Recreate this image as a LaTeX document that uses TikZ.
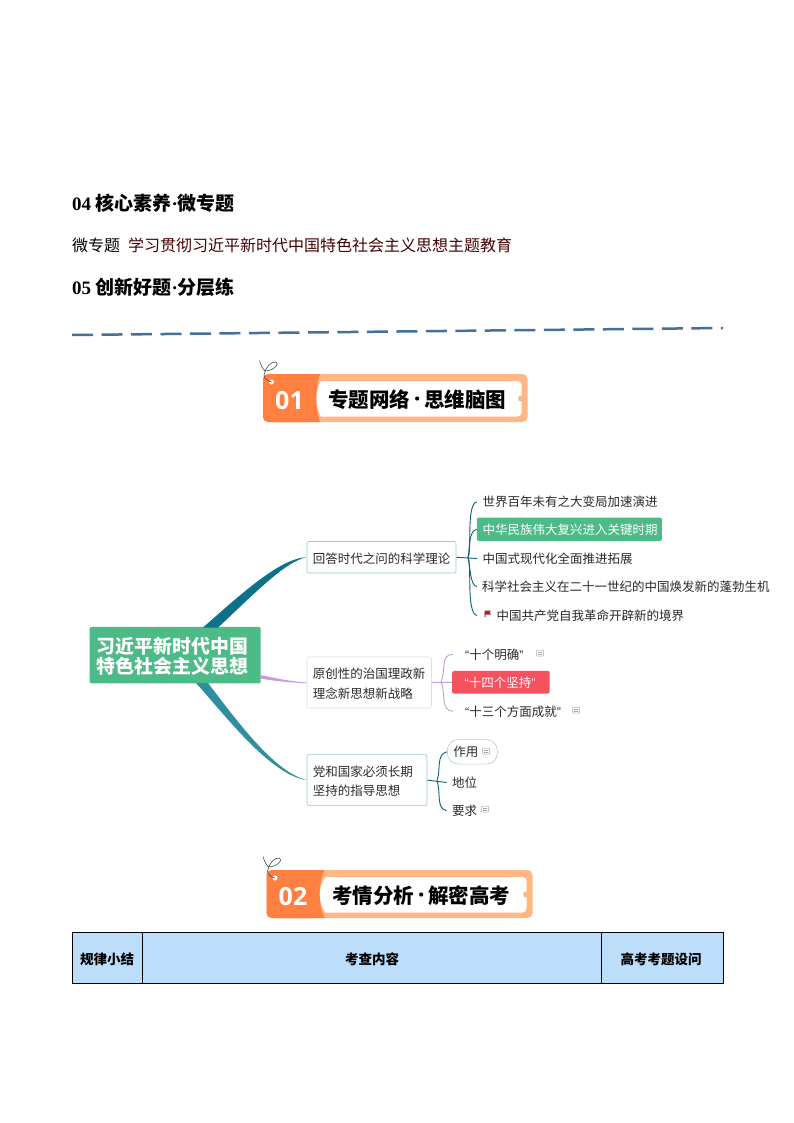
\documentclass[tikz,border=0pt]{standalone}
\usepackage{fontspec}
\setmainfont{Noto Sans CJK SC}
\newfontfamily\latinserif{Liberation Serif}
\newfontfamily\bannerfont{Open Sans}
\newfontfamily\quotefont{Liberation Sans}
\usetikzlibrary{calc}
\definecolor{tealA}{HTML}{0D7289}
\definecolor{tealB}{HTML}{0B5F78}
\definecolor{tealC}{HTML}{2F8F9F}
\definecolor{lilac}{HTML}{C99AD8}
\definecolor{rootgreen}{HTML}{4DBB87}
\definecolor{hotred}{HTML}{F5515F}
\definecolor{bannerA}{HTML}{FF8040}
\definecolor{bannerB}{HTML}{FFB885}
\definecolor{headblue}{HTML}{BDDEFB}
\definecolor{dashblue}{HTML}{44709F}
\definecolor{txt}{HTML}{2A2A2A}
\tikzset{
  x=1pt,y=-1pt,
  heading/.style={anchor=west,inner sep=0pt,font=\fontsize{19}{22}\selectfont\bfseries,text=black},
  bodytext/.style={anchor=west,inner sep=0pt,font=\fontsize{16}{19}\selectfont},
  mainbox/.style={draw,rounded corners=2pt,line width=0.6pt,fill=white,anchor=north west,inner ysep=0pt,inner xsep=5.8pt,align=left,text=txt,font=\fontsize{12.5}{19.5}\selectfont},
  leaf/.style={anchor=west,inner ysep=2pt,inner xsep=5.5pt,text=txt,font=\fontsize{12.5}{15}\selectfont},
  thinline/.style={line width=0.9pt},
  noteicon/.style={draw=gray!70,line width=0.5pt,fill=white},
  headcell/.style={anchor=center,inner sep=0pt,font=\fontsize{13.5}{16}\selectfont\bfseries,text=black},
}
\newcommand{\dropline}[1]{\raisebox{-1pt}[\height][\depth]{#1}}
\newcommand{\notemark}[2]{%
  \draw[noteicon,rounded corners=0.8pt] (#1-3.5,#2-3) rectangle (#1+3.5,#2+3);
  \draw[gray!70,line width=0.5pt] (#1-2,#2-0.8) -- (#1+2,#2-0.8) (#1-2,#2+1) -- (#1+2,#2+1);
}
\newcommand{\bdot}{\makebox[14pt][c]{\fontsize{24}{24}\selectfont\bannerfont\bfseries ·}}
% x0 left, y0 top, x1 right, split x, inner-left x, number, title, title x, name
\newcommand{\bannerbox}[9]{%
  \fill[bannerB,rounded corners=5pt] (#1,#2) rectangle (#3,#2+48);
  \fill[bannerA,rounded corners=5pt] (#1,#2) rectangle (#4-8,#2+48);
  \fill[bannerA] (#1+10,#2) -- (#4,#2) .. controls (#5-1,#2+14) and (#5-1,#2+34) .. (#4,#2+48) -- (#1+10,#2+48) -- cycle;
  \fill[white,rounded corners=4pt] (#5+5,#2+7) rectangle (#3-6,#2+42.5);
  \fill[white] (#4+1,#2+7) .. controls (#5-1,#2+16) and (#5-1,#2+33) .. (#4+1,#2+42.5) -- (#5+10,#2+42.5) -- (#5+10,#2+7) -- cycle;
  \fill[bannerB] (#3-6.5,#2+24.5) circle (3);
  \fill[white] (#1+8.5,#2+8) circle (2.5);
  \draw[black!70,line width=0.6pt] (#1-3.5,#2-13.5) .. controls (#1-2,#2-8) and (#1,#2-5) .. (#1+2,#2-3) .. controls (#1+10,#2-3) and (#1+17,#2-10) .. (#1+13,#2-12) .. controls (#1+8,#2-13) and (#1+2,#2-6) .. (#1+1,#2+1) .. controls (#1+1,#2+5) and (#1+5,#2+7) .. (#1+8.5,#2+8);
  \node[anchor=center,inner sep=0pt,text=white,font=\bannerfont\fontsize{25}{28}\selectfont\bfseries] at (#1+26.5,#2+26.5) {#6};
  \node[anchor=west,inner sep=0pt,text=black,font=\fontsize{20.5}{24}\selectfont\bfseries] (#9) at (#8,#2+25.5) {#7};
}
\begin{document}
\begin{tikzpicture}
\useasboundingbox (0,0) rectangle (794,1123);
\fill[white] (0,0) rectangle (794,1123);

% headings
\node[heading] (h4) at (72,203) {{\latinserif 04} 核心素养{\latinserif ·}微专题};
\node[bodytext,text=black] (b1) at (72,245) {微专题};
\node[bodytext,text=black!60!red!70!black] (b2) at (128,245) {学习贯彻习近平新时代中国特色社会主义思想主题教育};
\node[heading] (h5) at (72,287) {{\latinserif 05} 创新好题{\latinserif ·}分层练};

% dashed rule
\coordinate (ruleA) at (72,335);
\coordinate (ruleB) at (723,328);
\draw[dashblue,line width=2.5pt,dash pattern=on 21pt off 8.5pt] (ruleA) -- (ruleB);

% banners
\bannerbox{263}{374}{527.5}{320}{316}{01}{专题网络\bdot 思维脑图}{328}{bannerone}
\bannerbox{266.5}{870}{532.5}{324.5}{319}{02}{考情分析\bdot 解密高考}{332}{bannertwo}

% mind-map nodes
\node[fill=rootgreen,rounded corners=2pt,text width=156.6pt,inner xsep=7.2pt,minimum height=56.5pt,anchor=north west,inner ysep=0pt,align=left,text=white,font=\fontsize{18.9}{20}\selectfont\bfseries] (root) at (89.5,626.7) {\dropline{习近平新时代中国}\\\dropline{特色社会主义思想}};

\node[mainbox,draw=tealA!40,text width=137.4pt,minimum height=31.5pt] (n1) at (306.7,541.2) {\dropline{回答时代之问的科学理论}};
\node[mainbox,draw=lilac!40,text width=112.9pt,minimum height=51pt] (n2) at (306.7,656.7) {\dropline{原创性的治国理政新}\\\dropline{理念新思想新战略}};
\node[mainbox,draw=tealC!50,text width=108.4pt,minimum height=51pt] (n3) at (306.7,754.3) {\dropline{党和国家必须长期}\\\dropline{坚持的指导思想}};

% tapered branches
\coordinate (r1a) at (203,627.5);
\coordinate (r1b) at (218,627.5);
\coordinate (r2a) at (260,675);
\coordinate (r2b) at (260,678.5);
\coordinate (r3a) at (196,683);
\coordinate (r3b) at (208,683);
\fill[tealA] (r1a) .. controls (240,595) and (280,558) .. (n1.west) .. controls (285,561) and (250,598) .. (r1b) -- cycle;
\fill[lilac] (r2a) .. controls (275,678) and (290,681.5) .. (n2.west) -- ($(n2.west)+(0,0.8)$) .. controls (290,682.5) and (275,681) .. (r2b) -- cycle;
\fill[tealC] (r3a) .. controls (225,715) and (270,775) .. (n3.west) .. controls (275,772) and (240,725) .. (r3b) -- cycle;

% leaves of node 1
\node[leaf] (a1) at (477,501.9) {世界百年未有之大变局加速演进};
\node[leaf,fill=rootgreen,rounded corners=2pt,text=white,minimum height=23.4pt,text width=173.4pt,inner xsep=5.8pt] (a2) at (476.7,529.3) {中华民族伟大复兴进入关键时期};
\node[leaf] (a3) at (477,558.5) {中国式现代化全面推进拓展};
\node[leaf,inner xsep=5pt] (a4) at (477,586.7) {科学社会主义在二十一世纪的中国焕发新的蓬勃生机};
\node[leaf,inner xsep=19.5pt] (a5) at (477,615.5) {中国共产党自我革命开辟新的境界};
\fill[red!55!black!85] (484.5,610.5) -- (491,610.5) -- (489.5,612.5) -- (491,614.5) -- (485.5,614.5) -- (485.5,617) -- (484.5,617) -- cycle;
\coordinate (j1) at (468,557.5);
\draw[tealB,thinline] (n1.east) -- (a3.west);
\draw[tealB,thinline] (j1) .. controls (472,552) and (466,503) .. (a1.west);
\draw[tealB,thinline] (j1) .. controls (470,550) and (468,531) .. (a2.west);
\draw[tealB,thinline] (j1) .. controls (470,565) and (470,586) .. (a4.west);
\draw[tealB,thinline] (j1) .. controls (472,565) and (466,613) .. (a5.west);

% leaves of node 2
\node[leaf,inner xsep=12pt] (b1n) at (453,654.3) {{\quotefont “}十个明确{\quotefont ”}};
\node[leaf,fill=hotred,rounded corners=2pt,text=white,minimum height=22.7pt,text width=72.5pt,inner xsep=12.5pt] (b2n) at (452,682.3) {{\quotefont “}十四个坚持{\quotefont ”}};
\node[leaf,inner xsep=12pt] (b3n) at (453,711.3) {{\quotefont “}十三个方面成就{\quotefont ”}};
\notemark{540}{653}
\notemark{576}{710}
\coordinate (j2) at (441,682);
\draw[lilac,thinline] (n2.east) -- (b2n.west);
\draw[lilac,thinline] (j2) .. controls (446,672) and (440,654) .. (b1n.west);
\draw[lilac,thinline] (j2) .. controls (446,692) and (440,711) .. (b3n.west);

% leaves of node 3
\node[leaf,draw=tealA!35,fill=white,rounded corners=11pt,text width=38pt,minimum height=24.5pt,inner xsep=6pt,line width=0.6pt] (c1) at (447,751.8) {作用};
\node[leaf] (c2) at (446.5,782.5) {地位};
\node[leaf] (c3) at (446.5,810.5) {要求};
\notemark{486}{751}
\notemark{485}{809}
\coordinate (j3) at (437,780.5);
\draw[tealB,thinline] (n3.east) -- (c2.west);
\draw[tealB,thinline] (j3) .. controls (441,770) and (436,754) .. (c1.west);
\draw[tealB,thinline] (j3) .. controls (441,792) and (436,809) .. (c3.west);

% table
\fill[headblue] (72,932.5) rectangle (723.5,983.3);
\draw[black,line width=0.9pt] (72,932.5) rectangle (723.5,983.3);
\draw[black,line width=0.9pt] (142.4,932.5) -- (142.4,983.3);
\draw[black,line width=0.9pt] (601,932.5) -- (601,983.3);
\node[headcell] (t1) at (107,959) {规律小结};
\node[headcell] (t2) at (372,959) {考查内容};
\node[headcell] (t3) at (661,959) {高考考题设问};
\end{tikzpicture}
\end{document}
